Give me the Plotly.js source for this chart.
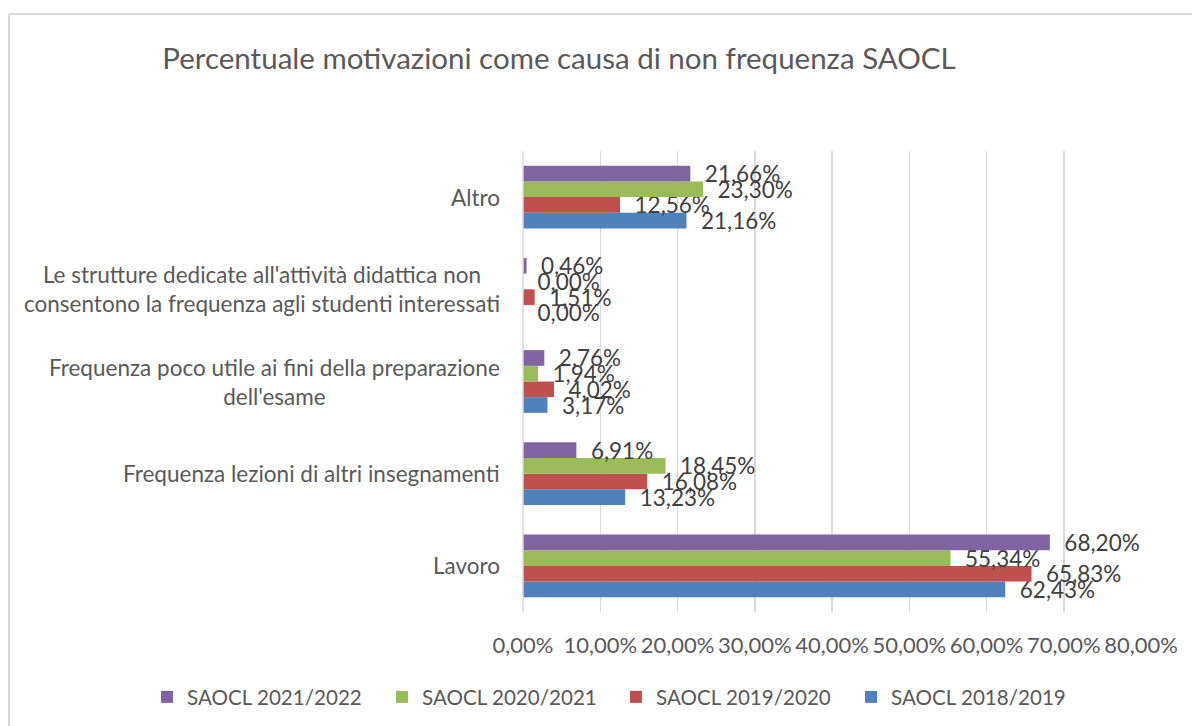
<!DOCTYPE html>
<html>
<head>
<meta charset="utf-8">
<script src="https://cdn.plot.ly/plotly-3.0.1.min.js"></script>
<style>html,body{margin:0;padding:0;background:#fff;}#chart{width:1192px;height:726px;}</style>
</head>
<body>
<div id="chart"></div>
<script>
const categories = [
  "Lavoro",
  "Frequenza lezioni di altri insegnamenti",
  "Frequenza poco utile ai fini della preparazione<br>dell'esame",
  "Le strutture dedicate all'attività didattica non<br>consentono la frequenza agli studenti interessati",
  "Altro"
];
const seriesNames = ["SAOCL 2018/2019", "SAOCL 2019/2020", "SAOCL 2020/2021", "SAOCL 2021/2022"];
const s2018 = [62.43, 13.23, 3.17, 0.00, 21.16];
const s2019 = [65.83, 16.08, 4.02, 1.51, 12.56];
const s2020 = [55.34, 18.45, 1.94, 0.00, 23.30];
const s2021 = [68.20, 6.91, 2.76, 0.46, 21.66];
const colors = ["#4F81BD", "#C0504D", "#9BBB59", "#8064A2"];
const xTicks = [0, 10, 20, 30, 40, 50, 60, 70, 80];
const xTickText = ["0,00%", "10,00%", "20,00%", "30,00%", "40,00%", "50,00%", "60,00%", "70,00%", "80,00%"];

const FONT = "Lato, 'Open Sans', sans-serif";
const values = [s2018, s2019, s2020, s2021];
// legend slots: 2018/2019 is rightmost, 2021/2022 leftmost
const legendIds = ["legend4", "legend3", "legend2", "legend"];
const legendLeft = [851, 616, 382, 147];

const traces = values.map((v, i) => ({
  type: "bar",
  orientation: "h",
  name: seriesNames[i],
  legend: legendIds[i],
  y: categories,
  x: v,
  marker: {color: colors[i], line: {width: 0}},
  texttemplate: "\u00a0\u00a0%{x:.2f}%",
  textposition: "outside",
  constraintext: "none",
  cliponaxis: false,
  textfont: {family: FONT, size: 22.5, color: "#404040"},
  hoverinfo: "skip"
}));

const annotations = categories.map(c => ({
  xref: "paper", yref: "y", x: -0.034, y: c,
  xanchor: "right", yanchor: "middle", align: "center",
  text: c, showarrow: false,
  font: {family: FONT, size: 22.5, color: "#595959"}
}));

const layout = {
  width: 1192, height: 726,
  paper_bgcolor: "#fff", plot_bgcolor: "#fff",
  separators: ",.",
  margin: {l: 523, r: 51, t: 151, b: 114},
  barmode: "group",
  bargap: 0.32,
  bargroupgap: 0,
  showlegend: true,
  font: {family: FONT, color: "#595959"},
  title: {
    text: "Percentuale motivazioni come causa di non frequenza SAOCL",
    xref: "container", yref: "container",
    x: 559 / 1192, xanchor: "center",
    y: 1 - 59 / 726, yanchor: "middle",
    font: {family: FONT, size: 29.5, color: "#595959"}
  },
  xaxis: {
    range: [0, 80],
    tickvals: xTicks,
    ticktext: xTickText,
    tickangle: 0,
    showgrid: true, gridcolor: "#d9d9d9", gridwidth: 1.5,
    zeroline: false, showline: false,
    ticks: "", ticklabelstandoff: 18,
    tickfont: {family: FONT, size: 22, color: "#595959"},
    fixedrange: true
  },
  yaxis: {
    showticklabels: false, showgrid: false, zeroline: false, showline: false,
    ticks: "", fixedrange: true
  },
  annotations: annotations,
  shapes: [
    {type: "line", xref: "paper", yref: "paper", x0: 0, x1: 0, y0: 0, y1: 1,
     line: {color: "#d9d9d9", width: 1.5}},
    {type: "line", xref: "paper", yref: "paper",
     x0: (9 - 523) / 618, x1: 1.2, y0: (726 - 114 - 14) / 461, y1: (726 - 114 - 14) / 461,
     line: {color: "#d9d9d9", width: 2}},
    {type: "line", xref: "paper", yref: "paper",
     x0: (9 - 523) / 618, x1: (9 - 523) / 618, y0: (726 - 114 - 14) / 461, y1: -0.5,
     line: {color: "#d9d9d9", width: 2}}
  ]
};

legendIds.forEach((id, i) => {
  layout[id] = {
    orientation: "h",
    xref: "container", yref: "container",
    x: legendLeft[i] / 1192, xanchor: "left",
    y: 1 - 697 / 726, yanchor: "middle",
    bgcolor: "rgba(0,0,0,0)",
    font: {family: FONT, size: 20.6, color: "#595959"},
    itemclick: false, itemdoubleclick: false
  };
});

Plotly.newPlot("chart", traces, layout, {displayModeBar: false, staticPlot: true});
</script>
</body>
</html>
